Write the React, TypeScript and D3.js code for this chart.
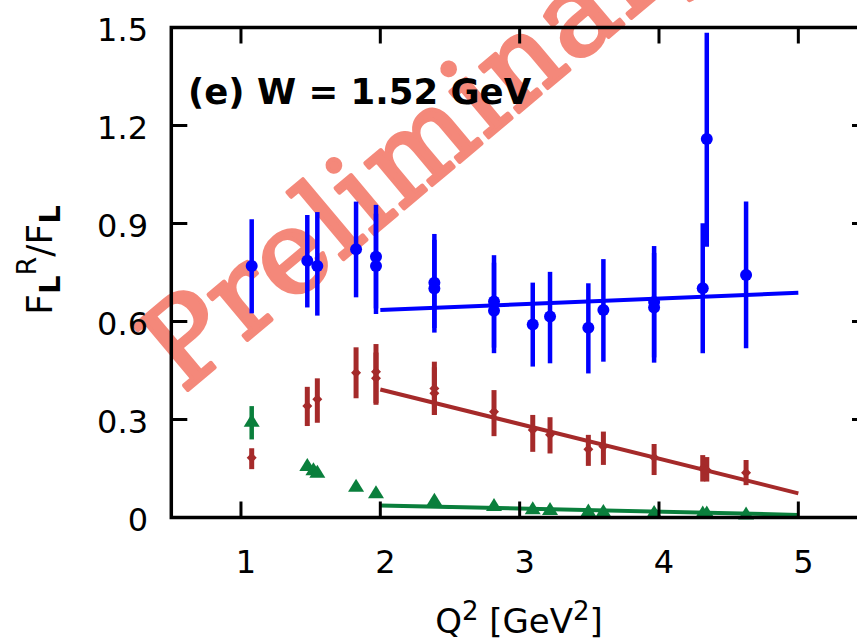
import React from "react";
import * as d3 from "d3";

const W = 857;
const H = 640;

// Blue series (circles)
const blueX = [1.077, 1.476, 1.548, 1.826, 1.969, 1.969, 2.388, 2.388, 2.816, 2.816, 3.094, 3.218, 3.493, 3.601, 3.965, 3.965, 4.314, 4.343, 4.625];
const blueY = [0.770, 0.786, 0.770, 0.821, 0.798, 0.770, 0.719, 0.701, 0.661, 0.633, 0.591, 0.615, 0.581, 0.635, 0.660, 0.643, 0.702, 1.159, 0.742];
const blueLo = [0.625, 0.643, 0.618, 0.674, 0.640, 0.623, 0.580, 0.566, 0.520, 0.503, 0.462, 0.472, 0.441, 0.477, 0.490, 0.474, 0.503, 0.829, 0.518];
const blueHi = [0.913, 0.926, 0.935, 0.967, 0.957, 0.930, 0.868, 0.850, 0.803, 0.780, 0.719, 0.752, 0.717, 0.791, 0.831, 0.810, 0.901, 1.484, 0.967];

// Brown series (diamonds)
const brownX = [1.077, 1.476, 1.548, 1.826, 1.969, 1.969, 2.388, 2.388, 2.816, 3.094, 3.218, 3.493, 3.601, 3.965, 4.314, 4.343, 4.625];
const brownY = [0.183, 0.341, 0.362, 0.443, 0.446, 0.426, 0.395, 0.380, 0.324, 0.268, 0.253, 0.209, 0.217, 0.184, 0.150, 0.145, 0.137];
const brownLo = [0.148, 0.280, 0.290, 0.365, 0.350, 0.345, 0.314, 0.314, 0.249, 0.201, 0.196, 0.158, 0.161, 0.130, 0.110, 0.110, 0.099];
const brownHi = [0.212, 0.400, 0.426, 0.521, 0.531, 0.505, 0.477, 0.460, 0.390, 0.314, 0.307, 0.253, 0.263, 0.225, 0.191, 0.185, 0.176];

// Green series (triangles)
const greenX = [1.077, 1.476, 1.52, 1.548, 1.826, 1.969, 2.388, 2.816, 3.094, 3.218, 3.493, 3.601, 3.965, 4.314, 4.343, 4.625];
const greenY = [0.293, 0.158, 0.145, 0.137, 0.094, 0.074, 0.051, 0.035, 0.025, 0.023, 0.018, 0.017, 0.014, 0.012, 0.012, 0.009];
const greenLo = [0.239, 0.148, 0.136, 0.128, 0.088, 0.069, 0.047, 0.032, 0.022, 0.020, 0.016, 0.015, 0.012, 0.010, 0.010, 0.007];
const greenHi = [0.341, 0.170, 0.156, 0.148, 0.100, 0.080, 0.055, 0.038, 0.028, 0.026, 0.020, 0.019, 0.016, 0.014, 0.014, 0.011];

// Linear fits (x from 2 to 5)
const fitX = [2, 5];
const blueFit = [0.635, 0.688];
const brownFit = [0.392, 0.074];
const greenFit = [0.037, 0.008];

const xTicks = [1, 2, 3, 4, 5];
const yTicks = [0, 0.3, 0.6, 0.9, 1.2, 1.5];
const yTickLabels = ["0", "0.3", "0.6", "0.9", "1.2", "1.5"];

const WATERMARK = "Preliminary";

const BLUE = "#0000ff";
const BROWN = "#a52a2a";
const GREEN = "#0a7f3c";
const SALMON = "#f4887a";

export default function App() {
  const x = d3.scaleLinear().domain([0.5, 5.5]).range([171.3, 868]);
  const y = d3.scaleLinear().domain([0, 1.5]).range([517.5, 27.5]);
  const line = d3
    .line<[number, number]>()
    .x((d) => x(d[0]))
    .y((d) => y(d[1]));

  const font = "DejaVu Sans, sans-serif";
  const left = x(0.5);
  const right = x(5.5);
  const top = y(1.5);
  const bottom = y(0);
  const tl = 16;

  const errBars = (xs: number[], lo: number[], hi: number[], color: string, w: number) =>
    xs.map((xv, i) => (
      <line key={"e" + color + i} x1={x(xv)} x2={x(xv)} y1={y(lo[i])} y2={y(hi[i])} stroke={color} strokeWidth={w} />
    ));

  return (
    <svg width={W} height={H} style={{ position: "absolute", left: 0, top: 0, background: "#fff" }}>
      {/* watermark */}
      <text
        transform="translate(183,394) rotate(-40)"
        fontFamily="DejaVu Serif, serif"
        fontSize={115}
        letterSpacing={2}
        fill={SALMON}
        stroke={SALMON}
        strokeWidth={4}
        strokeLinejoin="round"
      >
        {WATERMARK}
      </text>

      {/* fits */}
      <path d={line(fitX.map((v, i) => [v, blueFit[i]]) as any) || ""} stroke={BLUE} strokeWidth={4} fill="none" />
      <path d={line(fitX.map((v, i) => [v, brownFit[i]]) as any) || ""} stroke={BROWN} strokeWidth={4} fill="none" />
      <path d={line(fitX.map((v, i) => [v, greenFit[i]]) as any) || ""} stroke={GREEN} strokeWidth={4} fill="none" />

      {/* green */}
      {errBars(greenX, greenLo, greenHi, GREEN, 4.5)}
      {greenX.map((xv, i) => {
        const cx = x(xv);
        const cy = y(greenY[i]);
        return <path key={"g" + i} d={`M${cx},${cy - 8}L${cx + 8},${cy + 5}L${cx - 8},${cy + 5}Z`} fill={GREEN} />;
      })}

      {/* brown */}
      {errBars(brownX, brownLo, brownHi, BROWN, 5)}
      {brownX.map((xv, i) => {
        const cx = x(xv);
        const cy = y(brownY[i]);
        return (
          <path
            key={"b" + i}
            d={`M${cx},${cy - 5}L${cx + 5},${cy}L${cx},${cy + 5}L${cx - 5},${cy}Z`}
            fill={BROWN}
          />
        );
      })}

      {/* blue */}
      {errBars(blueX, blueLo, blueHi, BLUE, 4.5)}
      {blueX.map((xv, i) => (
        <circle key={"c" + i} cx={x(xv)} cy={y(blueY[i])} r={6} fill={BLUE} />
      ))}

      {/* frame */}
      <rect x={left} y={top} width={right - left} height={bottom - top} fill="none" stroke="#000" strokeWidth={3.5} />
      {xTicks.map((t) => (
        <g key={"xt" + t}>
          <line x1={x(t)} x2={x(t)} y1={bottom} y2={bottom - tl} stroke="#000" strokeWidth={3} />
          <line x1={x(t)} x2={x(t)} y1={top} y2={top + tl} stroke="#000" strokeWidth={3} />
          <text x={x(t) + 5} y={562} fontFamily={font} fontSize={32} textAnchor="middle" dominantBaseline="central">
            {t}
          </text>
        </g>
      ))}
      {yTicks.map((t, i) => (
        <g key={"yt" + t}>
          <line x1={left} x2={left + tl} y1={y(t)} y2={y(t)} stroke="#000" strokeWidth={3} />
          <line x1={right} x2={right - tl} y1={y(t)} y2={y(t)} stroke="#000" strokeWidth={3} />
          <text x={148} y={y(t) + 2} fontFamily={font} fontSize={32} textAnchor="end" dominantBaseline="central">
            {yTickLabels[i]}
          </text>
        </g>
      ))}

      {/* title */}
      <text x={188} y={104} fontFamily={font} fontSize={35.5} fontWeight="bold">
        (e) W = 1.52 GeV
      </text>

      {/* axis titles */}
      <text x={519} y={633} fontFamily={font} fontSize={34} textAnchor="middle">
        Q<tspan dy={-13} fontSize={26}>2</tspan>
        <tspan dy={13}> [GeV</tspan>
        <tspan dy={-13} fontSize={26}>2</tspan>
        <tspan dy={13}>]</tspan>
      </text>
      <text transform="translate(52,260) rotate(-90)" fontFamily={font} fontSize={36} textAnchor="middle">
        F<tspan dy={8} fontSize={29} fontWeight="bold">L</tspan>
        <tspan dy={-24} fontSize={27}>R</tspan>
        <tspan dy={16}>/F</tspan>
        <tspan dy={8} fontSize={29} fontWeight="bold">L</tspan>
      </text>
    </svg>
  );
}
